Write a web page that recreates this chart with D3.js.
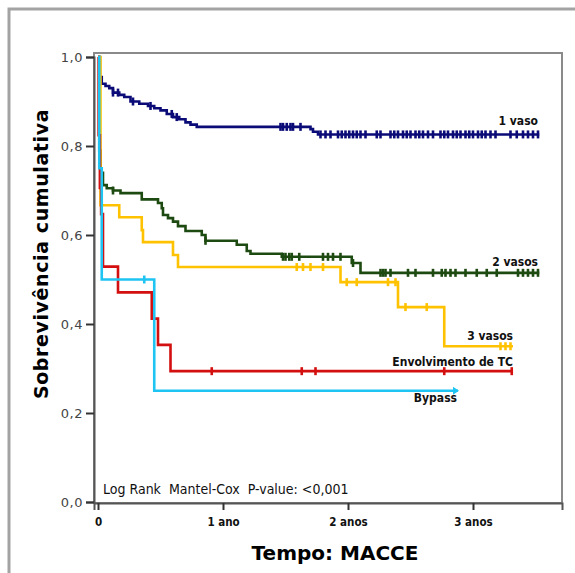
<!DOCTYPE html>
<html>
<head>
<meta charset="utf-8">
<script src="https://cdn.jsdelivr.net/npm/d3@7"></script>
<style>
  body { margin: 0; background: #fff; }
  svg { display: block; }
</style>
</head>
<body>
<div id="chart"></div>
<script>
/* DATA (time in years, cumulative survival) */

const groups = ["1 vaso", "2 vasos", "3 vasos", "Envolvimento de TC", "Bypass"];

const vaso1Times = [0, 0.015, 0.03, 0.06, 0.09, 0.12, 0.17, 0.21, 0.26, 0.33, 0.40, 0.45, 0.50, 0.55, 0.60, 0.65, 0.70, 0.74, 0.79, 1.70, 1.72, 1.76];
const vaso1Surv  = [1.0, 0.955, 0.94, 0.935, 0.93, 0.92, 0.915, 0.91, 0.90, 0.895, 0.89, 0.885, 0.88, 0.872, 0.865, 0.86, 0.853, 0.848, 0.843, 0.838, 0.832, 0.826];
const vaso1Censored = [0.12, 0.16, 0.28, 0.42, 0.59, 0.63, 1.46, 1.48, 1.51, 1.54, 1.56, 1.62, 1.78, 1.82, 1.86,
  1.92, 1.95, 1.98, 2.01, 2.04, 2.07, 2.10, 2.14, 2.23, 2.26, 2.34, 2.37, 2.40, 2.44, 2.47, 2.50, 2.54, 2.57, 2.60,
  2.64, 2.68, 2.74, 2.77, 2.80, 2.84, 2.87, 2.90, 2.94, 2.97, 3.00, 3.04, 3.07, 3.10, 3.14, 3.18, 3.30, 3.35,
  3.40, 3.44, 3.48, 3.52];
const vaso1End = 3.53;

const vaso2Times = [0, 0.01, 0.02, 0.04, 0.07, 0.12, 0.18, 0.35, 0.48, 0.51, 0.52, 0.56, 0.60, 0.64, 0.70, 0.83, 0.86, 1.11, 1.19, 1.22, 1.47, 2.03, 2.10];
const vaso2Surv  = [1.0, 0.79, 0.74, 0.712, 0.705, 0.70, 0.694, 0.68, 0.672, 0.66, 0.645, 0.638, 0.63, 0.62, 0.609, 0.60, 0.587, 0.578, 0.564, 0.558, 0.551, 0.537, 0.515];
const vaso2Censored = [0.12, 0.86, 1.48, 1.50, 1.53, 1.55, 1.61, 1.80, 1.84, 1.88, 1.94, 2.04, 2.26, 2.28, 2.30, 2.34,
  2.48, 2.54, 2.68, 2.75, 2.78, 2.82, 2.86, 2.94, 3.03, 3.11, 3.19, 3.36, 3.40, 3.44, 3.48, 3.52];
const vaso2End = 3.53;

const vaso3Times = [0, 0.02, 0.17, 0.35, 0.36, 0.60, 0.64, 1.94, 2.40, 2.77];
const vaso3Surv  = [1.0, 0.667, 0.64, 0.611, 0.584, 0.555, 0.528, 0.494, 0.438, 0.35];
const vaso3Censored = [1.59, 1.64, 1.70, 1.80, 1.99, 2.07, 2.32, 2.38, 2.46, 2.63, 3.22, 3.26, 3.30];
const vaso3End = 3.32;

const tcTimes = [0, 0.005, 0.015, 0.025, 0.04, 0.16, 0.43, 0.48, 0.58];
const tcSurv  = [1.0, 0.824, 0.706, 0.647, 0.529, 0.471, 0.412, 0.353, 0.294];
const tcCensored = [0.91, 1.63, 1.74, 2.77, 3.31];
const tcEnd = 3.32;

const bypassTimes = [0, 0.01, 0.03, 0.45];
const bypassSurv  = [1.0, 0.75, 0.5, 0.25];
const bypassCensored = [0.37];
const bypassEnd = 2.88;

const yTicks = [0, 0.2, 0.4, 0.6, 0.8, 1.0];
const xTicks = [0, 1, 2, 3];
const xTickLabels = ["0", "1 ano", "2 anos", "3 anos"];

const colors = ["#0b0b78", "#1d4a10", "#ffc200", "#d40f0f", "#1ec4f2"];

/* HELPERS */

function stepValue(times, surv, t) {
    let v = surv[0];
    for (let i = 0; i < times.length; i++) {
        if (times[i] <= t) v = surv[i];
    }
    return v;
}

/* RENDER */

const width = 575, height = 573;

const svg = d3.select("#chart")
    .append("svg")
    .attr("width", width)
    .attr("height", height);

// outer frame (only top and left visible)
svg.append("rect")
    .attr("x", 9).attr("y", 9)
    .attr("width", 700).attr("height", 700)
    .attr("fill", "none")
    .attr("stroke", "#a3a3a3")
    .attr("stroke-width", 3);

const x = d3.scaleLinear().domain([-0.032, 3.712]).range([94, 562]);
const y = d3.scaleLinear().domain([0, 1]).range([502, 57]);

// plot frame
svg.append("rect")
    .attr("x", 94).attr("y", 53)
    .attr("width", 468).attr("height", 450)
    .attr("fill", "none")
    .attr("stroke", "#8a8a8a")
    .attr("stroke-width", 2);

// y axis
const yAxis = svg.append("g")
    .attr("transform", "translate(94,0)")
    .call(d3.axisLeft(y).tickValues(yTicks).tickSize(8).tickPadding(3)
        .tickFormat(d => d3.format(".1f")(d).replace(".", ",")));
yAxis.select(".domain").attr("stroke", "#555").attr("stroke-width", 2);
yAxis.selectAll(".tick line").attr("stroke", "#333").attr("stroke-width", 2);
yAxis.selectAll("text")
    .attr("font-family", "DejaVu Sans")
    .attr("font-size", 13)
    .attr("letter-spacing", 0.5)
    .attr("fill", "#444");

// x axis
const xAxis = svg.append("g")
    .attr("transform", "translate(0,503)")
    .call(d3.axisBottom(x).tickValues(xTicks).tickSize(7).tickPadding(8)
        .tickFormat((d, i) => xTickLabels[i]));
xAxis.select(".domain").attr("stroke", "#555").attr("stroke-width", 2);
xAxis.selectAll(".tick line").attr("stroke", "#333").attr("stroke-width", 2);
xAxis.selectAll("text")
    .attr("font-family", "DejaVu Sans Condensed")
    .attr("font-weight", "bold")
    .attr("font-size", 11.5)
    .attr("fill", "#111");

// survival curves
const series = [
    {times: vaso1Times, surv: vaso1Surv, cens: vaso1Censored, end: vaso1End},
    {times: vaso2Times, surv: vaso2Surv, cens: vaso2Censored, end: vaso2End},
    {times: vaso3Times, surv: vaso3Surv, cens: vaso3Censored, end: vaso3End},
    {times: tcTimes, surv: tcSurv, cens: tcCensored, end: tcEnd},
    {times: bypassTimes, surv: bypassSurv, cens: bypassCensored, end: bypassEnd}
];

const line = d3.line()
    .x(d => x(d[0]))
    .y(d => y(d[1]))
    .curve(d3.curveStepAfter);

series.forEach((s, i) => {
    const pts = s.times.map((t, j) => [t, s.surv[j]]);
    pts.push([s.end, s.surv[s.surv.length - 1]]);

    svg.append("path")
        .datum(pts)
        .attr("fill", "none")
        .attr("stroke", colors[i])
        .attr("stroke-width", 2.6)
        .attr("d", line);

    svg.append("g")
        .selectAll("line")
        .data(s.cens)
        .enter().append("line")
        .attr("x1", d => x(d)).attr("x2", d => x(d))
        .attr("y1", d => y(stepValue(s.times, s.surv, d)) - 4)
        .attr("y2", d => y(stepValue(s.times, s.surv, d)) + 4)
        .attr("stroke", colors[i])
        .attr("stroke-width", 2.6);
});

// bypass end marker (small arrow head)
const bx = x(bypassEnd), by = y(bypassSurv[bypassSurv.length - 1]);
svg.append("path")
    .attr("d", `M${bx - 5},${by - 4}L${bx + 1},${by}L${bx - 5},${by + 4}Z`)
    .attr("fill", colors[4]);

// group labels
const labelPos = [
    {x: 538, y: 125}, {x: 538, y: 266}, {x: 513, y: 340}, {x: 513, y: 366}, {x: 457, y: 402}
];
svg.append("g")
    .selectAll("text")
    .data(groups)
    .enter().append("text")
    .attr("x", (d, i) => labelPos[i].x)
    .attr("y", (d, i) => labelPos[i].y)
    .attr("text-anchor", "end")
    .attr("font-family", "DejaVu Sans Condensed")
    .attr("font-weight", "bold")
    .attr("font-size", 12)
    .attr("fill", "#111")
    .text(d => d);

// test annotation
svg.append("text")
    .attr("x", 103).attr("y", 494)
    .attr("font-family", "DejaVu Sans Condensed")
    .attr("font-size", 14)
    .attr("fill", "#111")
    .style("white-space", "pre")
    .text("Log Rank  Mantel-Cox  P-value: <0,001");

// axis titles
svg.append("text")
    .attr("transform", "translate(48,254) rotate(-90)")
    .attr("text-anchor", "middle")
    .attr("font-family", "DejaVu Sans")
    .attr("font-weight", "bold")
    .attr("font-size", 19)
    .attr("letter-spacing", 0.6)
    .attr("fill", "#000")
    .text("Sobrevivência cumulativa");

svg.append("text")
    .attr("x", 335).attr("y", 560)
    .attr("text-anchor", "middle")
    .attr("font-family", "DejaVu Sans")
    .attr("font-weight", "bold")
    .attr("font-size", 20)
    .attr("fill", "#000")
    .text("Tempo: MACCE");
</script>
</body>
</html>
